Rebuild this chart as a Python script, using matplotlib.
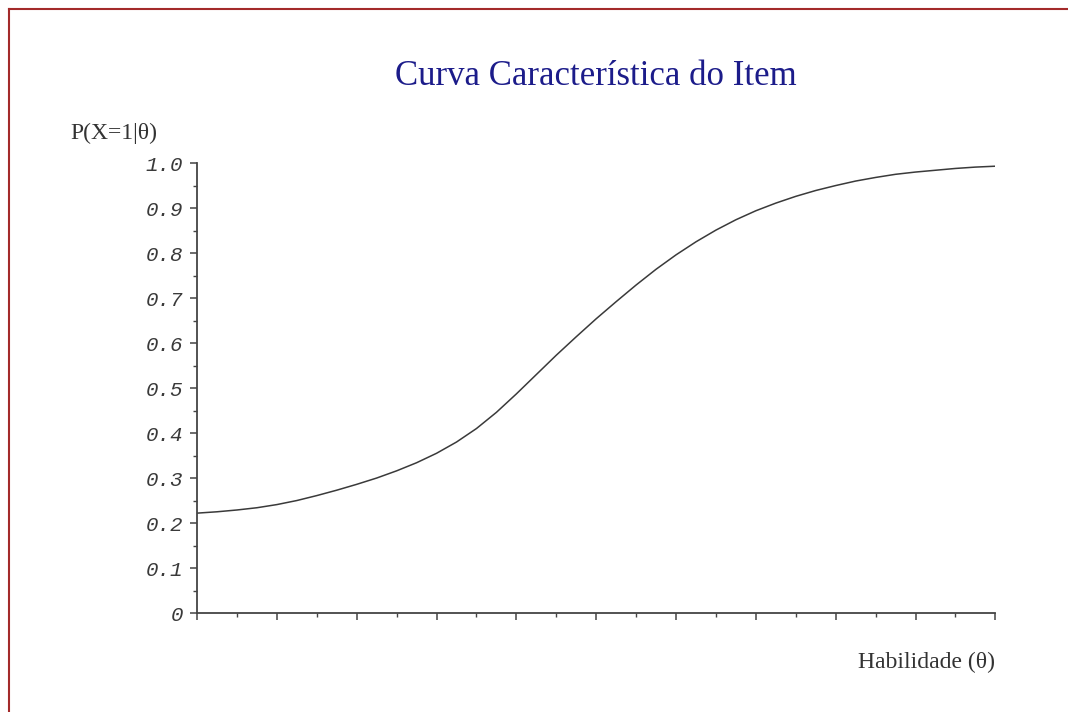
import numpy as np
import matplotlib
matplotlib.use("Agg")
import matplotlib.pyplot as plt
import matplotlib.ticker as mtick
from matplotlib.lines import Line2D

# habilidade (theta) e probabilidade
theta = [-5.0, -4.75, -4.5, -4.25, -4.0, -3.75, -3.5, -3.25, -3.0, -2.75,
         -2.5, -2.25, -2.0, -1.75, -1.5, -1.25, -1.0, -0.75, -0.5, -0.25,
         0.0, 0.25, 0.5, 0.75, 1.0, 1.25, 1.5, 1.75, 2.0, 2.25,
         2.5, 2.75, 3.0, 3.25, 3.5, 3.75, 4.0, 4.25, 4.5, 4.75, 5.0]
prob = [0.222, 0.225, 0.229, 0.234, 0.241, 0.250, 0.261, 0.273, 0.286, 0.300,
        0.316, 0.334, 0.355, 0.380, 0.410, 0.446, 0.487, 0.530, 0.573, 0.614,
        0.654, 0.692, 0.729, 0.764, 0.796, 0.825, 0.851, 0.874, 0.894, 0.911,
        0.926, 0.939, 0.950, 0.960, 0.968, 0.975, 0.980, 0.984, 0.988, 0.991, 0.993]
ytick_vals = [0.0, 0.1, 0.2, 0.3, 0.4, 0.5, 0.6, 0.7, 0.8, 0.9, 1.0]
ytick_labels = ["0", "0.1", "0.2", "0.3", "0.4", "0.5", "0.6", "0.7", "0.8", "0.9", "1.0"]

fig = plt.figure(figsize=(10.68, 7.12), dpi=100)
ax = fig.add_axes([0.1845, 0.139, 0.7475, 0.632])

ax.plot(theta, prob, color="#3a3a3a", lw=1.1)

ax.set_xlim(-5, 5)
ax.set_ylim(0, 1)
for s in ["top", "right"]:
    ax.spines[s].set_visible(False)
for s in ["left", "bottom"]:
    ax.spines[s].set_color("#444444")
    ax.spines[s].set_linewidth(1.3)

ax.set_xticks(np.arange(-5, 6, 1))
ax.xaxis.set_minor_locator(mtick.MultipleLocator(0.5))
ax.set_xticklabels([])
ax.set_yticks(ytick_vals)
ax.set_yticklabels(ytick_labels, family="Liberation Mono", style="italic",
                   fontsize=15, color="#3a3a3a")
ax.yaxis.set_minor_locator(mtick.MultipleLocator(0.05))
ax.tick_params(which="major", length=5, width=1.1, color="#444444", pad=5)
ax.tick_params(which="minor", length=3, width=1.0, color="#444444")

fig.text(0.558, 0.893, "Curva Característica do Item", ha="center", va="center",
         family="Liberation Serif", fontsize=25, color="#1c1c8a")
fig.text(0.066, 0.813, "P(X=1|θ)", ha="left", va="center",
         family="Liberation Serif", fontsize=17, color="#333333")
fig.text(0.932, 0.070, "Habilidade (θ)", ha="right", va="center",
         family="Liberation Serif", fontsize=17, color="#333333")

# moldura vermelha
fig.add_artist(Line2D([9 / 1068, 1.0], [1 - 9 / 712, 1 - 9 / 712],
                      transform=fig.transFigure, color="#a32a2a", lw=1.5))
fig.add_artist(Line2D([9 / 1068, 9 / 1068], [0.0, 1 - 9 / 712],
                      transform=fig.transFigure, color="#a32a2a", lw=1.5))

fig.savefig("out.png", dpi=100)
